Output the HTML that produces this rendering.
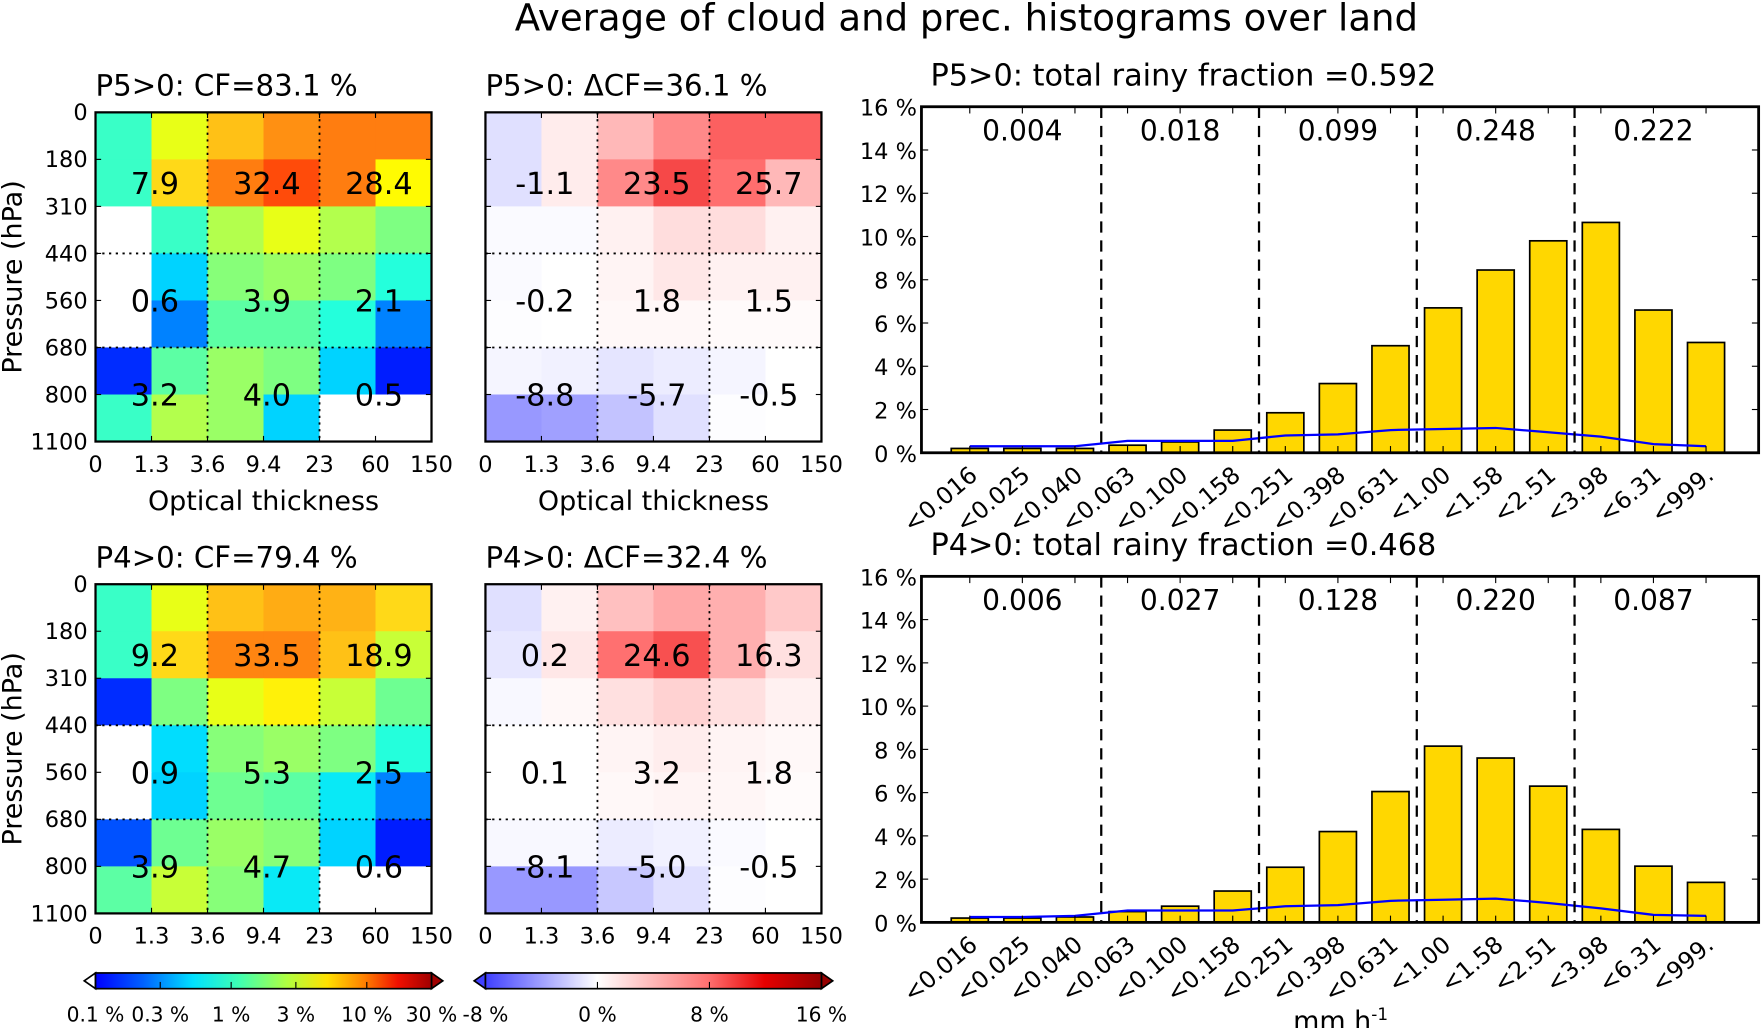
<!DOCTYPE html>
<html><head><meta charset="utf-8"><style>
html,body{margin:0;padding:0;background:#fff}
svg{display:block}
text{font-family:"DejaVu Sans","Liberation Sans",sans-serif;fill:#000}
</style></head><body>
<svg id="fig" width="1762" height="1028" viewBox="0 0 1568 915" preserveAspectRatio="none" xmlns="http://www.w3.org/2000/svg">
<defs>
<linearGradient id="jetg" x1="0" x2="1" y1="0" y2="0">
<stop offset="0" stop-color="#0000ff"/><stop offset="0.14" stop-color="#0060ff"/><stop offset="0.29" stop-color="#00e0ff"/><stop offset="0.43" stop-color="#40ffb0"/><stop offset="0.57" stop-color="#b0ff40"/><stop offset="0.69" stop-color="#ffe000"/><stop offset="0.8" stop-color="#ff8000"/><stop offset="0.9" stop-color="#f01000"/><stop offset="1" stop-color="#a00000"/>
</linearGradient>
<linearGradient id="bwrg" x1="0" x2="1" y1="0" y2="0">
<stop offset="0" stop-color="#4040ff"/><stop offset="0.333" stop-color="#ffffff"/><stop offset="0.667" stop-color="#ff6e6e"/><stop offset="0.83" stop-color="#e60000"/><stop offset="1" stop-color="#960000"/>
</linearGradient>
</defs>
<text x="860" y="27" font-size="33" text-anchor="middle">Average of cloud and prec. histograms over land</text>
<g id="root"></g>
</svg>
<script>
// ---- data ----
const pressureTicks = ["0","180","310","440","560","680","800","1100"];
const tauTicks = ["0","1.3","3.6","9.4","23","60","150"];
const cfTop = [
 [1.0,3.1,4.9,6.4,7.1,7.1],
 [1.0,4.3,7.1,9.5,7.1,3.6],
 [null,1.0,2.3,3.1,2.3,1.7],
 [null,0.66,1.8,2.0,1.7,0.9],
 [null,0.42,1.3,1.3,0.9,0.42],
 [0.26,1.3,2.0,1.7,0.66,0.24],
 [1.0,2.3,2.0,0.66,null,null]];
const cfBot = [
 [1.0,3.1,4.9,5.5,5.3,4.3],
 [1.0,4.3,6.8,6.8,4.9,2.6],
 [0.26,1.7,3.1,3.8,2.6,1.5],
 [null,0.7,1.8,2.0,1.7,0.9],
 [null,0.66,1.5,1.3,0.75,0.42],
 [0.32,1.5,2.0,1.8,0.66,0.24],
 [1.3,2.6,1.8,0.75,null,null]];
const dcfTop = [
 [-1.3,1.05,3.9,6.5,8.5,8.5],
 [-1.3,1.05,6.5,9.4,8.0,3.9],
 [-0.2,-0.2,0.8,1.9,1.9,0.8],
 [-0.2,0,0.6,1.3,0.8,0.8],
 [-0.1,0,0.4,0.4,0.3,0.3],
 [-0.4,-0.6,-1.1,-0.8,-0.4,0],
 [-4.3,-4.0,-2.5,-1.3,-0.1,0]];
const dcfBot = [
 [-1.3,0.8,3.5,4.8,4.4,3.0],
 [-1.0,1.3,7.9,9.1,4.4,1.7],
 [-0.3,0.4,1.7,2.5,1.7,0.8],
 [0,0,0.6,1.0,0.6,0.4],
 [0,0,0.4,0.6,0.5,0.2],
 [-0.3,-0.3,-0.8,-0.6,-0.2,0],
 [-4.3,-4.3,-2.3,-1.3,-0.1,0]];
const cfTopLabels = [["7.9","32.4","28.4"],["0.6","3.9","2.1"],["3.2","4.0","0.5"]];
const cfBotLabels = [["9.2","33.5","18.9"],["0.9","5.3","2.5"],["3.9","4.7","0.6"]];
const dcfTopLabels = [["-1.1","23.5","25.7"],["-0.2","1.8","1.5"],["-8.8","-5.7","-0.5"]];
const dcfBotLabels = [["0.2","24.6","16.3"],["0.1","3.2","1.8"],["-8.1","-5.0","-0.5"]];
const rainCats = ["<0.016","<0.025","<0.040","<0.063","<0.100","<0.158","<0.251","<0.398","<0.631","<1.00","<1.58","<2.51","<3.98","<6.31","<999."];
const rainTop = [0.2,0.2,0.2,0.35,0.5,1.05,1.85,3.2,4.95,6.7,8.45,9.8,10.65,6.6,5.1];
const lineTop = [0.3,0.3,0.3,0.55,0.55,0.55,0.8,0.85,1.05,1.1,1.15,0.95,0.75,0.4,0.3];
const rainBot = [0.2,0.2,0.25,0.5,0.75,1.45,2.55,4.2,6.05,8.15,7.6,6.3,4.3,2.6,1.85];
const lineBot = [0.25,0.25,0.3,0.55,0.55,0.55,0.75,0.8,1.0,1.05,1.1,0.9,0.65,0.35,0.3];
const groupTop = ["0.004","0.018","0.099","0.248","0.222"];
const groupBot = ["0.006","0.027","0.128","0.220","0.087"];
const yTicksPct = [0,2,4,6,8,10,12,14,16];
const jetTickLabels = ["0.1 %","0.3 %","1 %","3 %","10 %","30 %"];
const jetTickVals = [0.1,0.3,1,3,10,30];
const bwrTickLabels = ["-8 %","0 %","8 %","16 %"];
const bwrTickVals = [-8,0,8,16];

// ---- helpers ----
const NS="http://www.w3.org/2000/svg";
const root=document.getElementById('root');
function mk(tag,attrs,parent){const e=document.createElementNS(NS,tag);for(const k in attrs)e.setAttribute(k,attrs[k]);(parent||root).appendChild(e);return e;}
function lerp(a,b,t){return a+(b-a)*t;}
function interp(stops,t){t=Math.max(0,Math.min(1,t));for(let i=1;i<stops.length;i++){if(t<=stops[i][0]){const a=stops[i-1],b=stops[i];const u=(t-a[0])/(b[0]-a[0]);return 'rgb('+[1,2,3].map(j=>Math.round(lerp(a[j],b[j],u))).join(',')+')';}}const l=stops[stops.length-1];return 'rgb('+l[1]+','+l[2]+','+l[3]+')';}
const jetStops=[[0,0,0,128],[0.11,0,0,255],[0.125,0,0,255],[0.34,0,220,255],[0.375,24,255,232],[0.41,64,255,192],[0.5,128,255,128],[0.625,255,255,0],[0.66,255,216,24],[0.75,255,122,16],[0.875,255,0,0],[1,128,0,0]];
function jet(v){if(v===null)return '#ffffff';const t=Math.log(v/0.1)/Math.log(300);return interp(jetStops,t);}
function bwr(v){if(v<0){const t=Math.min(1,-v/8);const g=255-t*191;return 'rgb('+Math.round(g)+','+Math.round(g)+',255)';}
 if(v<=8){const g=255-v/8*145;return 'rgb(255,'+Math.round(g)+','+Math.round(g)+')';}
 const t=Math.min(1,(v-8)/8);return interp([[0,255,110,110],[0.5,230,0,0],[1,150,0,0]],t);}

function heatmap(x0,y0,W,H,data,colorFn,labels,title,name,showY,showX){
 const g=mk('g',{});
 
 
 const nr=data.length,nc=data[0].length,cw=W/nc,rh=H/nr;
 const xs=i=>x0+i*cw, ys=j=>y0+j*rh;
 data.forEach((row,j)=>row.forEach((v,i)=>{
  const r=mk('rect',{x:xs(i),y:ys(j),width:cw+0.5,height:rh+0.5,fill:colorFn(v)},g);
  
  
 }));
 [2,4].forEach(i=>mk('line',{x1:xs(i),x2:xs(i),y1:y0,y2:y0+H,stroke:'#000','stroke-width':1.6,'stroke-dasharray':'2 4'},g));
 [3,5].forEach(j=>mk('line',{x1:x0,x2:x0+W,y1:ys(j),y2:ys(j),stroke:'#000','stroke-width':1.6,'stroke-dasharray':'2 4'},g));
 mk('rect',{x:x0,y:y0,width:W,height:H,fill:'none',stroke:'#000','stroke-width':2},g);
 for(let i=1;i<nc;i++){mk('line',{x1:xs(i),x2:xs(i),y1:y0+H,y2:y0+H-5,stroke:'#000','stroke-width':1},g);mk('line',{x1:xs(i),x2:xs(i),y1:y0,y2:y0+5,stroke:'#000','stroke-width':1},g);}
 for(let j=1;j<nr;j++){mk('line',{x1:x0,x2:x0+5,y1:ys(j),y2:ys(j),stroke:'#000','stroke-width':1},g);mk('line',{x1:x0+W,x2:x0+W-5,y1:ys(j),y2:ys(j),stroke:'#000','stroke-width':1},g);}
 tauTicks.forEach((t,i)=>{const e=mk('text',{x:xs(i),y:y0+H+27,'font-size':20,'text-anchor':'middle'},g);e.textContent=t;});
 if(showY){pressureTicks.forEach((t,j)=>{const e=mk('text',{x:x0-7,y:ys(j)+7,'font-size':20,'text-anchor':'end'},g);e.textContent=t;});
  const yl=mk('text',{x:0,y:0,'font-size':24,'text-anchor':'middle',transform:'translate('+(x0-66)+','+(y0+H/2)+') rotate(-90)'},g);yl.textContent='Pressure (hPa)';}
 if(showX){const e=mk('text',{x:x0+W/2,y:y0+H+61,'font-size':24,'text-anchor':'middle'},g);e.textContent='Optical thickness';}
 const rowsY=[ys(1.5),ys(4),ys(6)], colsX=[xs(1),xs(3),xs(5)];
 labels.forEach((row,j)=>row.forEach((s,i)=>{const e=mk('text',{x:colsX[i]+3,y:rowsY[j]+10,'font-size':27,'text-anchor':'middle'},g);e.textContent=s;}));
 const tt=mk('text',{x:x0,y:y0-15,'font-size':26},g);tt.textContent=title;
 return g;
}

function hist(x0,y0,W,H,vals,line,groups,title,name){
 const g=mk('g',{});
 
 
 const slot=46.8, start=839.6-820+x0;
 const xc=i=>start+slot*(i+0.5);
 const yv=v=>y0+H-(v/16)*H;
 vals.forEach((v,i)=>{const r=mk('rect',{x:xc(i)-16.5,y:yv(v),width:33,height:yv(0)-yv(v),fill:'#ffd700',stroke:'#000','stroke-width':1.5},g);});
 const pts=line.map((v,i)=>xc(i).toFixed(1)+','+yv(v).toFixed(1)).join(' ');
 const pl=mk('polyline',{points:pts,fill:'none',stroke:'#0000ff','stroke-width':2},g);
 for(let k=1;k<5;k++){const x=start+slot*3*k;mk('line',{x1:x,x2:x,y1:y0,y2:y0+H,stroke:'#000','stroke-width':2,'stroke-dasharray':'10 7'},g);}
 groups.forEach((s,k)=>{const e=mk('text',{x:start+slot*(3*k+1.5),y:y0+30,'font-size':25,'text-anchor':'middle'},g);e.textContent=s;});
 mk('rect',{x:x0,y:y0,width:W,height:H,fill:'none',stroke:'#000','stroke-width':2.5},g);
 yTicksPct.forEach(t=>{const y=yv(t);mk('line',{x1:x0,x2:x0+6,y1:y,y2:y,stroke:'#000','stroke-width':1},g);mk('line',{x1:x0+W,x2:x0+W-6,y1:y,y2:y,stroke:'#000','stroke-width':1},g);
  const e=mk('text',{x:x0-4,y:y+8,'font-size':20,'text-anchor':'end'},g);e.textContent=t+' %';});
 rainCats.forEach((c,i)=>{mk('line',{x1:xc(i),x2:xc(i),y1:y0+H,y2:y0+H-6,stroke:'#000','stroke-width':1},g);mk('line',{x1:xc(i),x2:xc(i),y1:y0,y2:y0+6,stroke:'#000','stroke-width':1},g);
  const e=mk('text',{x:0,y:0,'font-size':21,'text-anchor':'end',transform:'translate('+(xc(i)-2)+','+(y0+H+10)+') rotate(-40)'},g);e.setAttribute('dy','0.75em');e.textContent=c;});
 const tt=mk('text',{x:x0+8,y:y0-19,'font-size':27},g);tt.setAttribute('xml:space','preserve');tt.textContent=title;
}

heatmap(85,100,299,293,cfTop,jet,cfTopLabels,'P5>0: CF=83.1 %','cf-heatmap-p5',true,true);
heatmap(432,100,299,293,dcfTop,bwr,dcfTopLabels,'P5>0: \u0394CF=36.1 %','dcf-heatmap-p5',false,true);
heatmap(85,520,299,293,cfBot,jet,cfBotLabels,'P4>0: CF=79.4 %','cf-heatmap-p4',true,false);
heatmap(432,520,299,293,dcfBot,bwr,dcfBotLabels,'P4>0: \u0394CF=32.4 %','dcf-heatmap-p4',false,false);

hist(820,95,745,308,rainTop,lineTop,groupTop,'P5>0:  total rainy fraction =0.592','rain-histogram-p5');
hist(820,513,745,308,rainBot,lineBot,groupBot,'P4>0:  total rainy fraction =0.468','rain-histogram-p4');
const mm=mk('text',{x:1193,y:917,'font-size':24,'text-anchor':'middle'});mm.innerHTML='mm h<tspan dy="-9" font-size="15">-1</tspan>';


// colorbars
function cbar(x0,w,grad,underFill,overFill,tickVals,posFn,labels,name){
 const g=mk('g',{});
 
 
 const y=866,h=14;
 mk('polygon',{points:(x0-10)+','+(y+h/2)+' '+x0+','+y+' '+x0+','+(y+h),fill:underFill,stroke:'#000','stroke-width':1.5},g);
 mk('polygon',{points:(x0+w+10)+','+(y+h/2)+' '+(x0+w)+','+y+' '+(x0+w)+','+(y+h),fill:overFill,stroke:'#000','stroke-width':1.5},g);
 mk('rect',{x:x0,y:y,width:w,height:h,fill:'url(#'+grad+')',stroke:'#000','stroke-width':1.5},g);
 tickVals.forEach((v,i)=>{const x=x0+posFn(v)*w;mk('line',{x1:x,x2:x,y1:y+h,y2:y+h-6,stroke:'#000','stroke-width':1},g);
  const e=mk('text',{x:x,y:909,'font-size':18,'text-anchor':'middle','font-family':'"Liberation Sans Narrow","DejaVu Sans Condensed","DejaVu Sans",sans-serif'},g);e.textContent=labels[i];});
}
cbar(85,299,'jetg','#ffffff','#a00000',jetTickVals,v=>Math.log(v/0.1)/Math.log(300),jetTickLabels,'cf-colorbar');
cbar(432,299,'bwrg','#4040ff','#960000',bwrTickVals,v=>(v+8)/24,bwrTickLabels,'dcf-colorbar');
</script>
</body></html>
